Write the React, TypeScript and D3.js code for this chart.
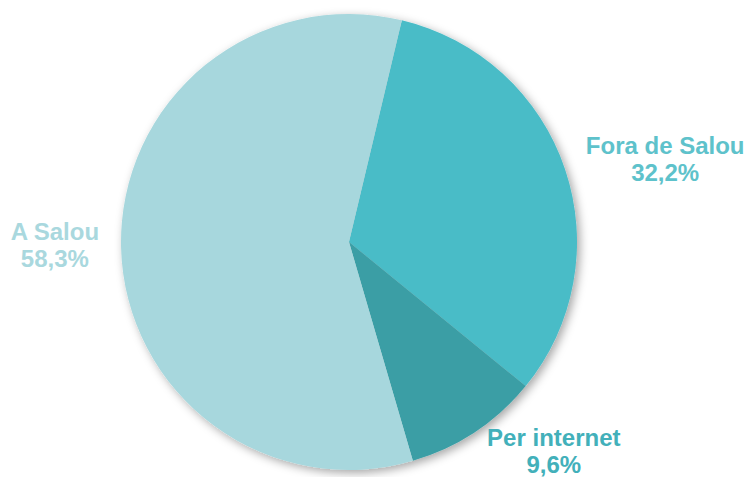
import React, { useEffect, useRef } from "react";
import * as d3 from "d3";

const categories = ["Fora de Salou", "Per internet", "A Salou"];
const values = [32.2, 9.6, 58.3];
const valueLabels = ["32,2%", "9,6%", "58,3%"];
const sliceColors = ["#48BCC7", "#3A9EA5", "#A7D7DD"];
const labelColors = ["#5EC2CB", "#42B0BA", "#A9D8DE"];

const W = 751;
const H = 477;

export default function App() {
  const ref = useRef<SVGSVGElement | null>(null);

  useEffect(() => {
    const svg = d3.select(ref.current);
    svg.selectAll("*").remove();

    const cx = 349;
    const cy = 242;
    const R = 228;
    const start = (13.4 * Math.PI) / 180;

    const defs = svg.append("defs");
    const f = defs
      .append("filter")
      .attr("id", "shadow")
      .attr("x", "-20%")
      .attr("y", "-20%")
      .attr("width", "140%")
      .attr("height", "140%");
    f.append("feDropShadow")
      .attr("dx", 3)
      .attr("dy", 3)
      .attr("stdDeviation", 5)
      .attr("flood-color", "#000")
      .attr("flood-opacity", 0.35);

    const pie = d3
      .pie<number>()
      .sort(null)
      .value((d) => d)
      .startAngle(start)
      .endAngle(start + 2 * Math.PI);
    const arcs = pie(values);
    const arc = d3.arc<d3.PieArcDatum<number>>().innerRadius(0).outerRadius(R);

    const g = svg.append("g").attr("transform", `translate(${cx},${cy})`);
    g.append("g")
      .attr("filter", "url(#shadow)")
      .selectAll("path")
      .data(arcs)
      .join("path")
      .attr("d", arc)
      .attr("fill", (_, i) => sliceColors[i]);

    arcs.forEach((a, i) => {
      const mid = (a.startAngle + a.endAngle) / 2;
      const lr = 250;
      const px = Math.sin(mid) * lr;
      const py = -Math.cos(mid) * lr;
      const tg = g.append("g");
      const t = tg
        .append("text")
        .attr("text-anchor", "middle")
        .attr("font-family", "Liberation Sans, Arial, sans-serif")
        .attr("font-weight", "bold")
        .attr("font-size", 24)
        .attr("fill", labelColors[i]);
      t.append("tspan").attr("x", 0).attr("y", 0).text(categories[i]);
      t.append("tspan").attr("x", 0).attr("y", 27).text(valueLabels[i]);
      const bb = (t.node() as SVGTextElement).getBBox();
      const bx = Math.sin(mid) >= 0 ? px - bb.x : px - (bb.x + bb.width);
      const by = py - (bb.y + bb.height / 2) + (Math.cos(mid) < -0.5 ? 1 : -3);
      tg.attr("transform", `translate(${bx},${by})`);
    });
  }, []);

  return (
    <svg ref={ref} width={W} height={H} style={{ display: "block", position: "absolute", left: 0, top: 0, background: "#fff" }} />
  );
}
